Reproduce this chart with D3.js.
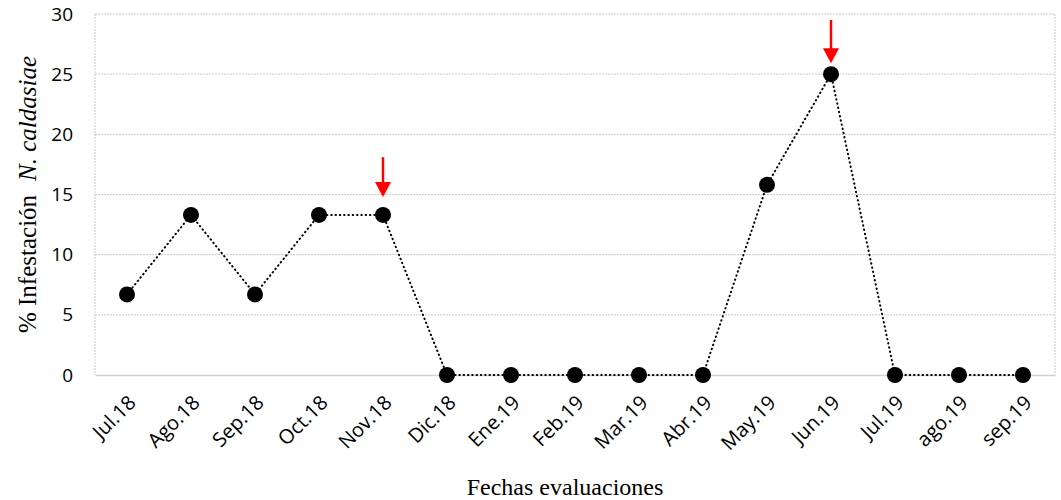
<!DOCTYPE html>
<html>
<head>
<meta charset="utf-8">
<script src="https://cdn.jsdelivr.net/npm/d3@7"></script>
<style>
  body { margin: 0; background: #fff; }
</style>
</head>
<body>
<div id="chart"></div>
<script>
const categories = ['Jul.18', 'Ago.18', 'Sep.18', 'Oct.18', 'Nov.18', 'Dic.18', 'Ene.19', 'Feb.19',
  'Mar.19', 'Abr.19', 'May.19', 'Jun.19', 'Jul.19', 'ago.19', 'sep.19']
const infestation = [6.7, 13.3, 6.7, 13.3, 13.3, 0, 0, 0, 0, 0, 15.8, 25, 0, 0, 0]
const yTicks = [0, 5, 10, 15, 20, 25, 30]
// red arrows: category, top value, tip value
const arrows = [
  { cat: 'Nov.18', from: 18.1, to: 14.8 },
  { cat: 'Jun.19', from: 29.5, to: 25.9 }
]

const width = 1061
const height = 500
const margin = { top: 14, right: 6, bottom: 125, left: 95 }

const svg = d3.select('#chart')
  .append('svg')
  .attr('width', width)
  .attr('height', height)

const x = d3.scaleBand()
  .domain(categories)
  .range([margin.left, width - margin.right])

const y = d3.scaleLinear()
  .domain([0, 30])
  .range([height - margin.bottom, margin.top])

const cx = d => x(d) + x.bandwidth() / 2

// grid
svg.append('g')
  .attr('class', 'grid')
  .selectAll('line')
  .data(yTicks.filter(d => d > 0))
  .join('line')
  .attr('x1', margin.left)
  .attr('x2', width - margin.right)
  .attr('y1', d => y(d))
  .attr('y2', d => y(d))
  .attr('stroke', '#c8c8c8')
  .attr('stroke-width', 1)
  .attr('stroke-dasharray', '2,1')

// side borders of plot area
svg.append('g')
  .selectAll('line')
  .data([margin.left, width - margin.right])
  .join('line')
  .attr('x1', d => d)
  .attr('x2', d => d)
  .attr('y1', y(30))
  .attr('y2', y(0))
  .attr('stroke', '#c8c8c8')
  .attr('stroke-dasharray', '2,1')

// y axis
svg.append('g')
  .attr('transform', `translate(${margin.left},0)`)
  .call(d3.axisLeft(y).tickValues(yTicks).tickSize(0).tickPadding(22))
  .call(g => g.select('.domain').remove())
  .call(g => g.selectAll('text')
    .attr('font-family', 'Open Sans, sans-serif')
    .attr('font-size', 19)
    .attr('fill', '#000'))

// x axis
svg.append('g')
  .attr('transform', `translate(0,${y(0)})`)
  .call(d3.axisBottom(x).tickSize(0).tickSizeOuter(0))
  .call(g => g.select('.domain').attr('stroke', '#d0d0d0').attr('stroke-width', 1.5))
  .call(g => g.selectAll('text')
    .attr('font-family', 'Open Sans, sans-serif')
    .attr('font-size', 20)
    .attr('fill', '#000')
    .attr('text-anchor', 'end')
    .attr('dy', 0)
    .attr('y', 0)
    .attr('transform', 'translate(10,29) rotate(-45)'))

// line
const line = d3.line()
  .x((d, i) => cx(categories[i]))
  .y(d => y(d))

svg.append('path')
  .datum(infestation)
  .attr('d', line)
  .attr('fill', 'none')
  .attr('stroke', '#000')
  .attr('stroke-width', 2)
  .attr('stroke-linecap', 'round')
  .attr('stroke-dasharray', '0.5,3.8')

svg.append('g')
  .selectAll('circle')
  .data(infestation)
  .join('circle')
  .attr('cx', (d, i) => cx(categories[i]))
  .attr('cy', d => y(d))
  .attr('r', 8)
  .attr('fill', '#000')

// arrows
const arrowG = svg.append('g').selectAll('g').data(arrows).join('g')
arrowG.append('line')
  .attr('x1', d => cx(d.cat))
  .attr('x2', d => cx(d.cat))
  .attr('y1', d => y(d.from))
  .attr('y2', d => y(d.to) - 12)
  .attr('stroke', '#ff0000')
  .attr('stroke-width', 2.5)
arrowG.append('path')
  .attr('d', d => {
    const ax = cx(d.cat), ay = y(d.to)
    return `M${ax - 8},${ay - 15}L${ax + 8},${ay - 15}L${ax},${ay}Z`
  })
  .attr('fill', '#ff0000')

// axis titles
const yTitle = svg.append('text')
  .attr('transform', `translate(36,${(y(0) + y(30)) / 2}) rotate(-90)`)
  .attr('text-anchor', 'middle')
  .attr('font-family', 'Liberation Serif, Times New Roman, serif')
  .attr('font-size', 25)
  .attr('fill', '#000')
yTitle.append('tspan').text('% Infestación')
yTitle.append('tspan').attr('dx', 14).attr('font-style', 'italic').text('N. caldasiae')

svg.append('text')
  .attr('x', 565)
  .attr('y', 495)
  .attr('text-anchor', 'middle')
  .attr('font-family', 'Liberation Serif, Times New Roman, serif')
  .attr('font-size', 24)
  .attr('fill', '#000')
  .text('Fechas evaluaciones')
</script>
</body>
</html>
